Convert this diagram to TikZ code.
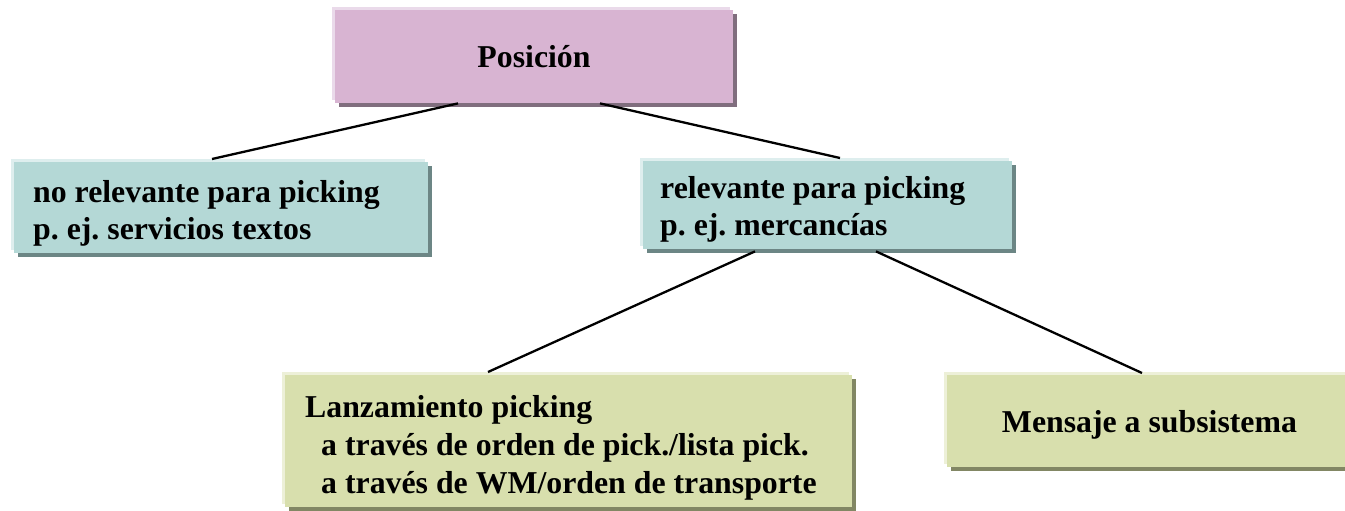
\documentclass[tikz,border=0pt]{standalone}
\usepackage{fontspec}
\setmainfont{Liberation Serif}
\usetikzlibrary{shadows}
\definecolor{pkF}{RGB}{216,180,210}
\definecolor{pkL}{RGB}{234,218,234}
\definecolor{pkS}{RGB}{128,110,126}
\definecolor{tlF}{RGB}{180,216,214}
\definecolor{tlL}{RGB}{222,238,238}
\definecolor{tlS}{RGB}{108,134,133}
\definecolor{grF}{RGB}{216,223,173}
\definecolor{grL}{RGB}{237,240,216}
\definecolor{grS}{RGB}{130,135,100}
\tikzset{
  box/.style={rectangle, inner sep=0pt, anchor=north west, fill=#1F,
    general shadow={shadow xshift=3.5pt, shadow yshift=-3.5pt, fill=#1S},
    general shadow={shadow xshift=-3pt, shadow yshift=3pt, fill=#1L}},
  txt/.style={inner sep=0pt, font=\fontsize{31.8}{37}\selectfont\bfseries\frenchspacing},
  conn/.style={line width=2.3pt, black}
}
\begin{document}
\begin{tikzpicture}[x=1pt, y=-1pt]
\useasboundingbox (0,0) rectangle (1345,511);
% boxes
\node[box=pk, minimum width=398pt, minimum height=93pt] (pos) at (335,10) {};
\node[box=tl, minimum width=414pt, minimum height=91pt] (left) at (14,162) {};
\node[box=tl, minimum width=369pt, minimum height=88pt] (mid) at (643,161) {};
\node[box=gr, minimum width=567pt, minimum height=132pt] (bl) at (285,375) {};
\node[box=gr, minimum width=401pt, minimum height=92pt] (rt) at (947,375) {};
% texts
\node[txt, anchor=base] (tpos) at (534,67) {Posición};
\node[txt, anchor=base west] (tl1) at (33,202) {no relevante para picking};
\node[txt, anchor=base west] (tl2) at (33,239) {p. ej. servicios textos};
\node[txt, anchor=base west] (tm1) at (660,198) {relevante para picking};
\node[txt, anchor=base west] (tm2) at (660,235) {p. ej. mercancías};
\node[txt, anchor=base west] (tb1) at (305,417) {Lanzamiento picking};
\node[txt, anchor=base west] (tb2) at (321,455) {a través de orden de pick./lista pick.};
\node[txt, anchor=base west] (tb3) at (321,493) {a través de WM/orden de transporte};
\node[txt, anchor=base] (tr) at (1149.5,432) {Mensaje a subsistema};
% connectors
\draw[conn] ([xshift=123pt]pos.south west) -- ([xshift=198pt,yshift=3pt]left.north west);
\draw[conn] ([xshift=265pt]pos.south west) -- ([xshift=197pt,yshift=3pt]mid.north west);
\draw[conn] ([xshift=112pt,yshift=-2pt]mid.south west) -- ([xshift=203pt,yshift=3pt]bl.north west);
\draw[conn] ([xshift=233pt,yshift=-2pt]mid.south west) -- ([xshift=195pt,yshift=2pt]rt.north west);
\end{tikzpicture}
\end{document}
